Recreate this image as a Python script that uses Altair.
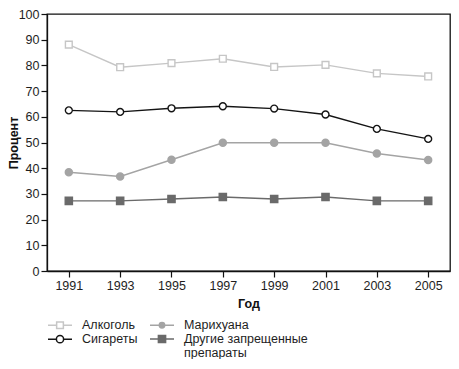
import altair as alt
import pandas as pd

years = [1991, 1993, 1995, 1997, 1999, 2001, 2003, 2005]
alcohol = [88.1, 79.3, 80.9, 82.6, 79.4, 80.2, 76.9, 75.7]
cigarettes = [62.5, 61.9, 63.3, 64.1, 63.2, 60.9, 55.3, 51.4]
marijuana = [38.4, 36.8, 43.3, 49.9, 49.9, 49.9, 45.7, 43.2]
other_drugs = [27.3, 27.3, 28.0, 28.8, 28.0, 28.8, 27.3, 27.3]

series_names = ["Алкоголь", "Сигареты", "Марихуана", "Другие запрещенные препараты"]
line_colors = ["#c6c6c6", "#141414", "#a4a4a4", "#6a6a6a"]
fill_colors = ["#ffffff", "#ffffff", "#a4a4a4", "#6a6a6a"]
shapes = ["square", "circle", "circle", "square"]
sizes = [46, 52, 34, 56]

legend_order = ["Алкоголь", "Марихуана", "Сигареты", "Другие запрещенные препараты"]
legend_line_colors = ["#c6c6c6", "#a4a4a4", "#141414", "#6a6a6a"]
legend_fill_colors = ["#ffffff", "#a4a4a4", "#ffffff", "#6a6a6a"]
legend_paths = [
    "M-2,0H-0.56M0.56,0H2M-0.56,-0.56H0.56V0.56H-0.56Z",
    "M-2,0H-0.45M0.45,0H2M0.45,0A0.45,0.45,0,1,1,-0.45,0A0.45,0.45,0,1,1,0.45,0Z",
    "M-2,0H-0.6M0.6,0H2M0.6,0A0.6,0.6,0,1,1,-0.6,0A0.6,0.6,0,1,1,0.6,0Z",
    "M-2,0H-0.6M0.6,0H2M-0.6,-0.6H0.6V0.6H-0.6Z",
]

rows = []
for name, vals in zip(series_names, [alcohol, cigarettes, marijuana, other_drugs]):
    for yr, v in zip(years, vals):
        rows.append({"year": yr, "value": v, "series": name})
df = pd.DataFrame(rows)

FONT = "Liberation Sans"

x_enc = alt.X(
    "year:Q",
    scale=alt.Scale(domain=[1990.15, 2005.85], nice=False, zero=False),
    axis=alt.Axis(values=years, format="d", title="Год", grid=False,
                  labelPadding=2, titlePadding=6),
)
y_enc = alt.Y(
    "value:Q",
    scale=alt.Scale(domain=[0, 100], nice=False),
    axis=alt.Axis(values=list(range(0, 101, 10)), title="Процент", grid=False,
                  labelPadding=2, titleX=-27, titleBaseline="bottom"),
)

lines = alt.Chart(df).mark_line(strokeWidth=1.4).encode(
    x=x_enc,
    y=y_enc,
    stroke=alt.Stroke("series:N", scale=alt.Scale(domain=series_names, range=line_colors), legend=None),
    detail="series:N",
)

points = alt.Chart(df).mark_point(opacity=1, strokeWidth=1.4).encode(
    x=x_enc,
    y=y_enc,
    shape=alt.Shape("series:N", scale=alt.Scale(domain=series_names, range=shapes), legend=None),
    stroke=alt.Stroke("series:N", scale=alt.Scale(domain=series_names, range=line_colors), legend=None),
    fill=alt.Fill("series:N", scale=alt.Scale(domain=series_names, range=fill_colors), legend=None),
    size=alt.Size("series:N", scale=alt.Scale(domain=series_names, range=sizes), legend=None),
)

leg = alt.Legend(
    title=None,
    orient="none",
    legendX=6,
    legendY=304,
    columns=2,
    direction="horizontal",
    symbolSize=144,
    symbolStrokeWidth=1.5,
    labelFont=FONT,
    labelFontSize=12.5,
    labelColor="#1e1e1e",
    labelOffset=15,
    columnPadding=9,
    rowPadding=0,
    padding=0,
    labelBaseline="middle",
    labelLimit=300,
    labelExpr="datum.label == 'Другие запрещенные препараты' ? ['Другие запрещенные', 'препараты'] : datum.label",
)

legend_layer = alt.Chart(df).transform_filter("false").mark_point(opacity=1, strokeWidth=1.5).encode(
    x=x_enc,
    y=y_enc,
    shape=alt.Shape("series:N", scale=alt.Scale(domain=legend_order, range=legend_paths), legend=leg),
    stroke=alt.Stroke("series:N", scale=alt.Scale(domain=legend_order, range=legend_line_colors), legend=leg),
    fill=alt.Fill("series:N", scale=alt.Scale(domain=legend_order, range=legend_fill_colors), legend=leg),
)

chart = (
    alt.layer(lines, points, legend_layer)
    .resolve_scale(shape="independent", stroke="independent", fill="independent", size="independent")
    .properties(
        width=403,
        height=257,
        autosize=alt.AutoSizeParams(type="none"),
        padding={"left": 39, "top": 6, "right": 1, "bottom": 88},
        background="#ffffff",
    )
    .configure(style={"guide-label": {"lineHeight": 14}})
    .configure_view(stroke="#111111", strokeWidth=1.3)
    .configure_axis(
        labelFont=FONT,
        labelFontSize=12.5,
        labelColor="#1e1e1e",
        titleFont=FONT,
        titleFontSize=12.5,
        titleFontWeight="bold",
        titleColor="#111111",
        domainColor="#111111",
        domainWidth=1.3,
        tickColor="#111111",
        tickWidth=1.2,
        tickSize=6,
    )
)

chart.save("out.html", embed_options={"renderer": "svg", "actions": False})
